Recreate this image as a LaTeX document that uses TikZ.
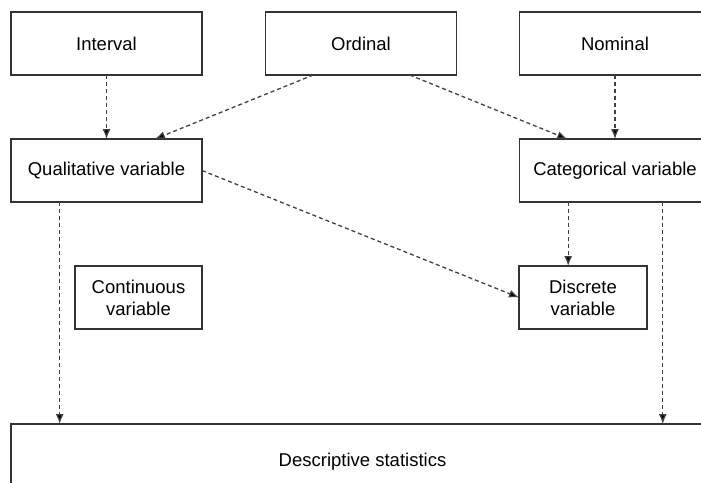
\documentclass[tikz,border=0pt]{standalone}
\usepackage{fontspec}
\setmainfont{Liberation Sans}
\usetikzlibrary{arrows.meta,calc}
\begin{document}
\begin{tikzpicture}[x=1pt,y=-1pt,
  box/.style={draw=black!80,line width=1.3pt,fill=white,inner sep=0pt,outer sep=0pt,
    minimum width=191pt,minimum height=63pt,align=center,
    font=\fontsize{18.5}{22}\selectfont},
  conn/.style={draw=black!75,line width=1.3pt,dash pattern=on 4pt off 3pt,
    -{Latex[length=10pt,width=8pt,fill=black]}}]
\useasboundingbox (0,0) rectangle (701,482);
\clip (0,0) rectangle (701,482);
\fill[white] (0,0) rectangle (701,482);
\node[box] (int) at (106.5,43.5) {Interval};
\node[box] (ord) at (361,43.5) {Ordinal};
\node[box] (nom) at (615,43.5) {Nominal};
\node[box] (qual) at (106.5,170.5) {Qualitative variable};
\node[box] (cat) at (615,170.5) {Categorical variable};
\node[box,minimum width=127pt] (cont) at (138.5,297.5) {Continuous\\variable};
\node[box,minimum width=128pt] (disc) at (583,297.5) {Discrete\\variable};
\node[box,minimum width=703pt,minimum height=76pt] (desc) at (362.5,462) {Descriptive statistics};
% connectors
\draw[conn] (int.south) -- (qual.north);
\draw[conn] ($(ord.south west)!0.25!(ord.south east)$) -- ($(qual.north west)!0.754!(qual.north east)$);
\draw[conn] ($(ord.south west)!0.755!(ord.south east)$) -- ($(cat.north west)!0.25!(cat.north east)$);
\draw[conn] (nom.south) -- (cat.north);
\draw[conn] (qual.east) -- (disc.west);
\coordinate (qd) at ($(qual.south west)!0.255!(qual.south east)$);
\draw[conn] (qd) -- (qd |- desc.north);
\coordinate (cd) at ($(cat.south west)!0.255!(cat.south east)$);
\draw[conn] (cd) -- (cd |- disc.north);
\coordinate (ce) at ($(cat.south west)!0.75!(cat.south east)$);
\draw[conn] (ce) -- (ce |- desc.north);
\end{tikzpicture}
\end{document}
